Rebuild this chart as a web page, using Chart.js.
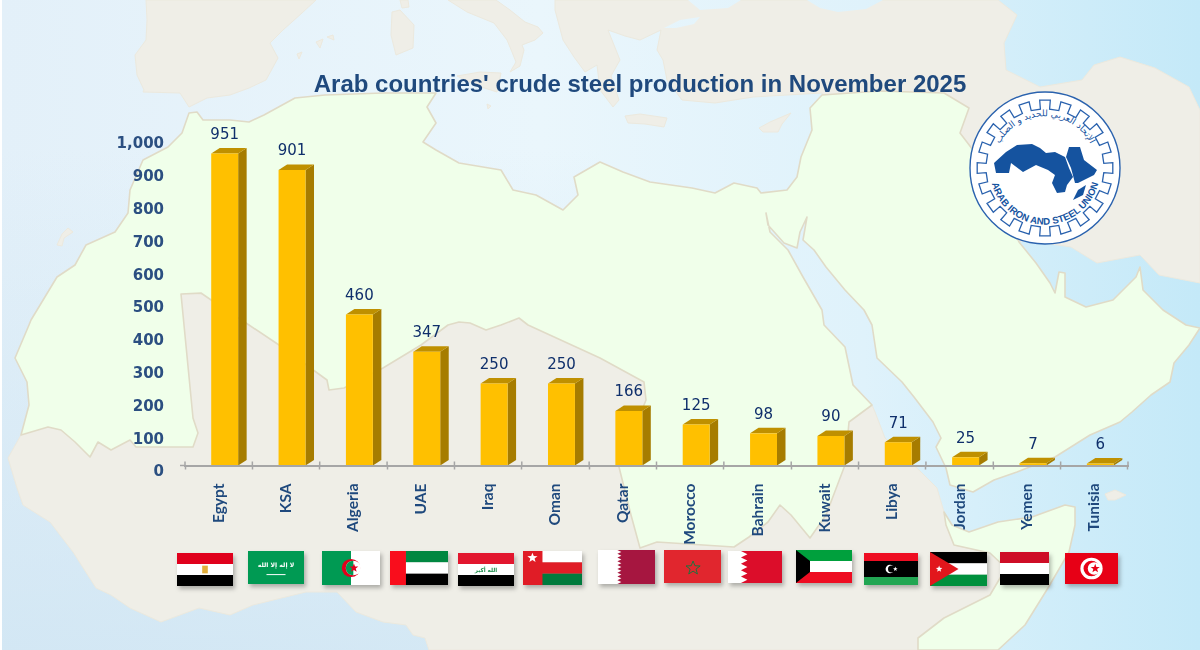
<!DOCTYPE html>
<html lang="en">
<head>
<meta charset="utf-8">
<title>Arab countries' crude steel production</title>
<script src="https://cdn.jsdelivr.net/npm/chart.js@4"></script>
<style>
  html, body { margin: 0; padding: 0; background: #fff; }
  #stage { position: relative; width: 1200px; height: 650px; overflow: hidden; }
  #backdrop, #chart { position: absolute; left: 0; top: 0; }
</style>
</head>
<body>
<div id="stage">
  <svg id="backdrop" width="1200" height="650" viewBox="0 0 1200 650" xmlns="http://www.w3.org/2000/svg"></svg>
  <canvas id="chart" width="1200" height="650"></canvas>
</div>
<script>
// November 2025 crude steel output by country, thousand tonnes
const categories = ["Egypt", "KSA", "Algeria", "UAE", "Iraq", "Oman", "Qatar", "Morocco", "Bahrain", "Kuwait", "Libya", "Jordan", "Yemen", "Tunisia"];
const production = [951, 901, 460, 347, 250, 250, 166, 125, 98, 90, 71, 25, 7, 6];
const chartTitle = "Arab countries' crude steel production in November 2025";
const axisMax = 1000;
const axisStep = 100;

// ---- Map backdrop ----------------------------------------------------------
const landColor = "#EFEEE7", landEdge = "#ECE9DE", arabColor = "#F0FFEA", coast = "#E0DBC7";
const pts = a => a.map(p => p.join(",")).join(" ");
const poly = (a, fill, stroke, sw) =>
  `<polygon points="${pts(a)}" fill="${fill}" stroke="${stroke || 'none'}" stroke-width="${sw || 0}" stroke-linejoin="round"/>`;

const iberia = [[146,0],[147,20],[146,40],[135,55],[137,75],[144,90],[143,92],[180,93],[189,107],[207,98],[230,95],[249,88],[266,80],[278,58],[270,43],[283,30],[302,13],[316,0]];
const italy = [[448,0],[467,12],[494,23],[507,40],[512,52],[516,62],[510,72],[520,66],[524,50],[522,45],[535,40],[543,33],[538,27],[525,22],[510,10],[496,0]];
const sicily = [[457,76],[480,72],[501,73],[497,92],[478,86]];
const sardinia = [[392,12],[400,10],[414,25],[413,48],[396,55],[391,35]];
const corsica = [[400,0],[408,0],[409,7],[402,8]];
const islets = [[[316,42],[323,39],[320,48]],[[327,37],[333,35],[334,40]],[[297,54],[302,52],[299,59]],[[487,104],[491,106],[488,109]],[[57,245],[62,234],[68,228],[73,232],[64,238],[62,246]],[[1105,494],[1115,490],[1126,495],[1115,500],[1108,500]]];
const crete = [[625,116],[640,114],[667,118],[664,127],[645,124],[628,123]];
const cyprus = [[759,128],[770,122],[791,113],[782,124],[778,132],[763,132]];
const eurasia = [[555,0],[555,10],[563,40],[574,57],[585,72],[597,65],[600,90],[613,107],[619,100],[611,76],[620,60],[608,30],[625,36],[640,40],[661,30],[657,50],[663,60],[667,80],[682,100],[715,103],[753,97],[787,95],[822,93],[880,200],[1019,242],[1025,240],[1071,247],[1097,263],[1140,255],[1159,275],[1200,283],[1200,110],[1189,87],[1155,68],[1120,57],[1094,65],[1082,80],[1040,87],[1006,70],[1004,43],[1017,15],[998,0]];
const blackSea = [[688,0],[741,0],[728,8],[700,10]];
const blackSeaEast = [[807,0],[883,0],[866,9],[838,12],[820,8]];
const marmara = [[664,28],[680,20],[700,17],[694,24],[676,28]];
const africa = [[21,435],[8,458],[17,488],[23,505],[50,522],[73,552],[96,588],[111,595],[130,608],[161,622],[199,608],[230,615],[253,605],[306,592],[337,592],[356,612],[383,622],[406,625],[413,635],[425,638],[429,650],[918,650],[918,638],[944,618],[990,595],[1006,568],[990,553],[954,545],[946,525],[944,512],[937,488],[921,472],[885,438],[875,412],[872,405],[849,380],[600,300],[181,294]];
const arabWorld = [[31,320],[57,277],[75,265],[86,245],[115,232],[128,213],[130,190],[143,160],[168,147],[182,133],[189,113],[197,112],[203,120],[230,120],[249,122],[264,115],[295,98],[325,95],[383,93],[425,93],[436,93],[427,107],[436,123],[423,142],[436,150],[459,163],[501,170],[513,190],[536,195],[563,210],[578,195],[574,177],[600,162],[623,172],[650,182],[692,188],[715,193],[734,183],[757,188],[761,193],[787,190],[797,177],[801,157],[812,130],[810,108],[822,95],[880,91],[944,93],[969,108],[960,133],[973,150],[1019,242],[1036,263],[1050,283],[1055,293],[1059,272],[1065,273],[1065,297],[1086,307],[1113,300],[1136,277],[1140,267],[1143,290],[1163,310],[1186,325],[1200,328],[1189,345],[1174,363],[1170,382],[1151,395],[1132,412],[1120,422],[1090,435],[1055,457],[1017,472],[994,480],[973,492],[950,485],[946,468],[936,447],[941,438],[933,422],[914,397],[902,382],[877,358],[872,325],[864,310],[845,290],[826,267],[814,250],[803,240],[807,217],[800,232],[797,248],[784,243],[768,225],[766,213],[770,232],[788,250],[803,277],[822,310],[824,325],[845,347],[853,385],[872,405],[849,422],[845,465],[826,515],[810,538],[791,515],[780,505],[768,522],[749,537],[734,547],[657,542],[640,548],[631,515],[619,467],[646,400],[644,382],[600,358],[528,325],[519,318],[501,325],[486,330],[470,323],[459,322],[448,325],[421,345],[383,368],[344,388],[329,390],[327,380],[316,372],[279,345],[249,325],[214,302],[201,293],[181,294],[184,325],[193,418],[198,433],[193,447],[136,447],[130,440],[111,450],[98,442],[90,457],[75,442],[61,430],[48,427],[21,435],[29,405],[27,382],[15,358],[29,325]];
const somalia = [[918,650],[918,638],[944,618],[990,595],[1006,568],[990,553],[954,545],[946,525],[944,512],[952,525],[969,532],[998,522],[1032,517],[1065,505],[1075,507],[1075,525],[1069,552],[1048,588],[1025,625],[998,650]];

let svg = `<defs>
  <linearGradient id="sea" gradientUnits="userSpaceOnUse" x1="0" y1="0" x2="1200" y2="0">
    <stop offset="0" stop-color="#E3F0F9"/><stop offset="0.45" stop-color="#EAF6FC"/>
    <stop offset="0.72" stop-color="#DFF2FB"/><stop offset="1" stop-color="#C4E9F8"/>
  </linearGradient>
  <linearGradient id="shade" gradientUnits="userSpaceOnUse" x1="0" y1="150" x2="0" y2="650">
    <stop offset="0" stop-color="#CFE5F3" stop-opacity="0"/><stop offset="1" stop-color="#CFE5F3" stop-opacity="0.8"/>
  </linearGradient>
  <filter id="flagShadow" x="-20%" y="-20%" width="150%" height="160%">
    <feDropShadow dx="2" dy="3" stdDeviation="2" flood-color="#000" flood-opacity="0.28"/>
  </filter>
</defs>
<rect width="1200" height="650" fill="url(#sea)"/>
<rect width="600" height="650" fill="url(#shade)"/>
<rect width="2" height="650" fill="#fff"/>`;

[iberia, italy, sicily, sardinia, corsica, crete, cyprus, ...islets, eurasia].forEach(a => { svg += poly(a, landColor, landEdge, 1); });
[blackSea, blackSeaEast, marmara].forEach(a => { svg += poly(a, "url(#sea)"); });
svg += poly(africa, landColor, landEdge, 1);
svg += poly(arabWorld, arabColor, coast, 1.6);
svg += poly(somalia, arabColor, coast, 1.6);

// ---- Organisation emblem ---------------------------------------------------
const emblem = { cx: 1045, cy: 168, rx: 75, ry: 76 };
function gearPath(teeth, rIn, rOut) {
  const step = Math.PI * 2 / teeth;
  let d = "";
  for (let i = 0; i < teeth; i++) {
    const a = i * step - Math.PI / 2;
    const seq = [[rIn, a - step * 0.25], [rOut, a - step * 0.25], [rOut, a + step * 0.25], [rIn, a + step * 0.25]];
    seq.forEach(([r, t]) => {
      d += (d ? "L" : "M") + (emblem.cx + r * Math.cos(t)).toFixed(1) + " " + (emblem.cy + r * Math.sin(t)).toFixed(1);
    });
  }
  return d + "Z";
}
const blue = "#15539F";
const outlineAfrica = [[994,163],[1006,152],[1017,145],[1032,144],[1040,148],[1046,153],[1055,152],[1065,157],[1069,168],[1073,177],[1067,185],[1065,192],[1057,193],[1052,183],[1055,175],[1048,170],[1036,165],[1023,172],[1011,163],[1009,173],[996,173]];
const outlineArabia = [[1066,157],[1069,147],[1080,147],[1084,160],[1097,170],[1094,175],[1078,183],[1075,183],[1071,168]];
const outlineHorn = [[1073,200],[1078,190],[1086,185],[1083,195]];
svg += `<ellipse cx="${emblem.cx}" cy="${emblem.cy}" rx="${emblem.rx}" ry="${emblem.ry}" fill="#fff" stroke="#2A62AE" stroke-width="1.4"/>
<path d="${gearPath(20, 59, 68)}" fill="none" stroke="#2A62AE" stroke-width="1.3"/>
<path id="arcBottom" d="M${emblem.cx - 54} ${emblem.cy + 12} A55 55 0 0 0 ${emblem.cx + 54} ${emblem.cy + 12}" fill="none"/>
<path id="arcTop" d="M${emblem.cx - 48} ${emblem.cy - 18} A51 51 0 0 1 ${emblem.cx + 48} ${emblem.cy - 18}" fill="none"/>`;
[outlineAfrica, outlineArabia, outlineHorn].forEach(a => { svg += poly(a, blue); });
svg += `<text font-family="Liberation Sans" font-weight="bold" font-size="9.6" fill="${blue}"><textPath href="#arcBottom" startOffset="50%" text-anchor="middle">ARAB IRON AND STEEL UNION</textPath></text>
<text font-family="DejaVu Sans" font-size="9" fill="${blue}" direction="rtl"><textPath href="#arcTop" startOffset="50%" text-anchor="middle">الإتحاد العربي للحديد و الصلب</textPath></text>`;

// ---- Flags row -------------------------------------------------------------
function star(cx, cy, r, fill, stroke) {
  const p = [];
  for (let i = 0; i < 10; i++) {
    const rad = i % 2 ? r * 0.42 : r, t = -Math.PI / 2 + i * Math.PI / 5;
    p.push([(cx + rad * Math.cos(t)).toFixed(1), (cy + rad * Math.sin(t)).toFixed(1)]);
  }
  return `<polygon points="${pts(p)}" fill="${fill}" ${stroke ? `stroke="${stroke}" stroke-width="1.6"` : ""}/>`;
}
const bands = (cols, x = 0, w = 100) => cols.map((c, i) =>
  `<rect x="${x}" y="${i * 60 / cols.length}" width="${w}" height="${60 / cols.length + 0.2}" fill="${c}"/>`).join("");
const zigzag = (edge, depth, n) => {
  const p = [[0, 0], [edge, 0]];
  for (let i = 0; i < n; i++) {
    p.push([edge + depth, (i + 0.5) * 60 / n], [edge, (i + 1) * 60 / n]);
  }
  p.push([0, 60]);
  return p;
};
const arabic = (t, x, y, size, fill) =>
  `<text x="${x}" y="${y}" font-family="DejaVu Sans" font-weight="bold" font-size="${size}" fill="${fill}" text-anchor="middle">${t}</text>`;

const flagRow = [
  [177, 553, 56, 33, bands(["#E0001F", "#fff", "#000"]) + `<rect x="45" y="23" width="10" height="14" fill="#E2AE3A"/>`],
  [248, 551, 56, 33, `<rect width="100" height="60" fill="#009A53"/>` + arabic("لا إله إلا الله", 50, 29, 11, "#fff") + `<rect x="33" y="42" width="34" height="1.8" fill="#fff"/>`],
  [322, 551, 58, 34, `<rect width="100" height="60" fill="#fff"/><rect width="50" height="60" fill="#009A53"/><circle cx="50" cy="30" r="16" fill="#E2001F"/><circle cx="54" cy="30" r="13" fill="#fff"/><path d="M54 17a13 13 0 0 0 0 26z" fill="#009A53"/>` + star(55, 30, 8, "#E2001F")],
  [390, 551, 58, 34, bands(["#00873F", "#fff", "#000"]) + `<rect width="27.5" height="60" fill="#F9101F"/>`],
  [458, 553, 56, 33, bands(["#E2142D", "#fff", "#000"]) + arabic("الله أكبر", 50, 35, 10, "#1E8E4C")],
  [523, 551, 59, 34, bands(["#fff", "#E01E26", "#007A3D"]) + `<rect width="33" height="60" fill="#E01E26"/>` + star(16, 12, 9, "#fff")],
  [598, 550, 57, 34, `<rect width="100" height="60" fill="#A6193F"/>` + poly(zigzag(34, 7, 9), "#fff")],
  [664, 550, 57, 33, `<rect width="100" height="60" fill="#E1262D"/>` + star(51, 33, 13, "none", "#0B7A3E")],
  [728, 551, 54, 32, `<rect width="100" height="60" fill="#DC0A2B"/>` + poly(zigzag(24, 12, 5), "#fff")],
  [796, 550, 56, 33, bands(["#00A03E", "#fff", "#EE1022"]) + `<polygon points="0,0 25,20 25,40 0,60" fill="#000"/>`],
  [864, 553, 54, 32, `<rect width="100" height="15" fill="#EE0820"/><rect y="15" width="100" height="30" fill="#000"/><rect y="45" width="100" height="15" fill="#22A652"/><circle cx="48" cy="30" r="8" fill="#fff"/><circle cx="51" cy="30" r="6.6" fill="#000"/>` + star(58, 30, 4.5, "#fff")],
  [930, 552, 57, 34, bands(["#000", "#fff", "#00903D"]) + `<polygon points="0,0 50,30 0,60" fill="#E2141F"/>` + star(16, 30, 6, "#fff")],
  [1000, 552, 49, 33, bands(["#CE1126", "#fff", "#000"])],
  [1065, 553, 53, 31, `<rect width="100" height="60" fill="#E70013"/><circle cx="50" cy="30" r="21" fill="#fff"/><circle cx="50" cy="30" r="15" fill="#E70013"/><circle cx="55" cy="30" r="12" fill="#fff"/>` + star(57, 30, 9, "#E70013")]
];
flagRow.forEach(([x, y, w, h, art]) => {
  svg += `<g filter="url(#flagShadow)"><svg x="${x}" y="${y}" width="${w}" height="${h}" viewBox="0 0 100 60" preserveAspectRatio="none">${art}</svg></g>`;
});
document.getElementById("backdrop").innerHTML = svg;

// ---- Chart -----------------------------------------------------------------
// The drawn column sits a little right of its category centre, with the depth
// faces behind it, so the tick labels stay centred while the columns do not.
const barShift = 6, depthX = 8.5, depthY = 5.5;
const faceSide = "#A67C00", faceTop = "#BF9000", faceFront = "#FFC000";

const prism3d = {
  id: "prism3d",
  afterLayout(chart) {
    // centre the heading over the plot and emblem block instead of the page
    chart.titleBlock.left = 0;
    chart.titleBlock.right = 1280;
  },
  beforeDatasetsDraw(chart) {
    const ctx = chart.ctx;
    ctx.save();
    ctx.translate(barShift, 0);
    chart.getDatasetMeta(0).data.forEach(bar => {
      const left = bar.x - bar.width / 2, right = bar.x + bar.width / 2;
      const top = bar.y, base = bar.base;
      ctx.fillStyle = faceSide;
      ctx.beginPath();
      ctx.moveTo(right, top);
      ctx.lineTo(right + depthX, top - depthY);
      ctx.lineTo(right + depthX, base - depthY);
      ctx.lineTo(right, base);
      ctx.closePath();
      ctx.fill();
      ctx.fillStyle = faceTop;
      ctx.beginPath();
      ctx.moveTo(left, top);
      ctx.lineTo(left + depthX, top - depthY);
      ctx.lineTo(right + depthX, top - depthY);
      ctx.lineTo(right, top);
      ctx.closePath();
      ctx.fill();
      ctx.fillStyle = faceFront;
      ctx.fillRect(left, base, bar.width, 1.5);
    });
  },
  afterDatasetsDraw(chart) {
    const ctx = chart.ctx;
    ctx.restore();
    ctx.save();
    ctx.font = "15px 'DejaVu Sans'";
    ctx.fillStyle = "#0F2F6B";
    ctx.textAlign = "center";
    ctx.textBaseline = "middle";
    chart.getDatasetMeta(0).data.forEach((bar, i) => {
      ctx.fillText(production[i], bar.x + barShift, bar.y - 18.5);
    });
    ctx.restore();
  },
  afterDraw(chart) {
    // axis ticks straddle the line, and the line runs slightly past the first tick
    const ctx = chart.ctx, x = chart.scales.x, y = chart.scales.y.getPixelForValue(0);
    const half = (x.getPixelForValue(1) - x.getPixelForValue(0)) / 2;
    ctx.save();
    ctx.strokeStyle = "#A6A6A6";
    ctx.lineWidth = 1.5;
    ctx.beginPath();
    for (let i = 0; i <= categories.length; i++) {
      const px = x.getPixelForValue(0) - half + i * half * 2;
      ctx.moveTo(px, y - 4);
      ctx.lineTo(px, y);
    }
    ctx.moveTo(x.left - 5, y);
    ctx.lineTo(x.left, y);
    ctx.stroke();
    ctx.restore();
  }
};

new Chart(document.getElementById("chart"), {
  type: "bar",
  data: {
    labels: categories,
    datasets: [{
      data: production,
      backgroundColor: faceFront,
      borderWidth: 0,
      barPercentage: 0.4,
      categoryPercentage: 1,
      clip: false
    }]
  },
  plugins: [prism3d],
  options: {
    responsive: false,
    animation: false,
    locale: "en-US",
    layout: { padding: { left: 0, right: 72, top: 0, bottom: 0 } },
    plugins: {
      legend: { display: false },
      tooltip: { enabled: false },
      title: {
        display: true,
        text: chartTitle,
        color: "#1F497D",
        font: { family: "'Liberation Sans'", size: 24, weight: "bold", lineHeight: 1.2 },
        padding: { top: 71, bottom: 37.7 }
      }
    },
    scales: {
      x: {
        afterFit(scale) { scale.height = 184.5; },
        border: { display: true, color: "#A6A6A6", width: 2, z: 1 },
        grid: { display: true, drawOnChartArea: false, drawTicks: true, tickLength: 4, tickColor: "#A6A6A6", tickWidth: 1.5, z: 1 },
        ticks: {
          autoSkip: false,
          minRotation: 90,
          maxRotation: 90,
          padding: 14,
          color: "#1F497D",
          font: { family: "Lato", size: 15.5, weight: "bold" }
        }
      },
      y: {
        min: 0,
        max: axisMax,
        afterFit(scale) { scale.width = 185; },
        border: { display: false },
        grid: { display: false, drawTicks: false },
        ticks: {
          stepSize: axisStep,
          padding: 21,
          labelOffset: 7,
          color: "#2B4F81",
          font: { family: "'DejaVu Sans'", size: 15, weight: "bold" }
        }
      }
    }
  }
});
</script>
</body>
</html>
